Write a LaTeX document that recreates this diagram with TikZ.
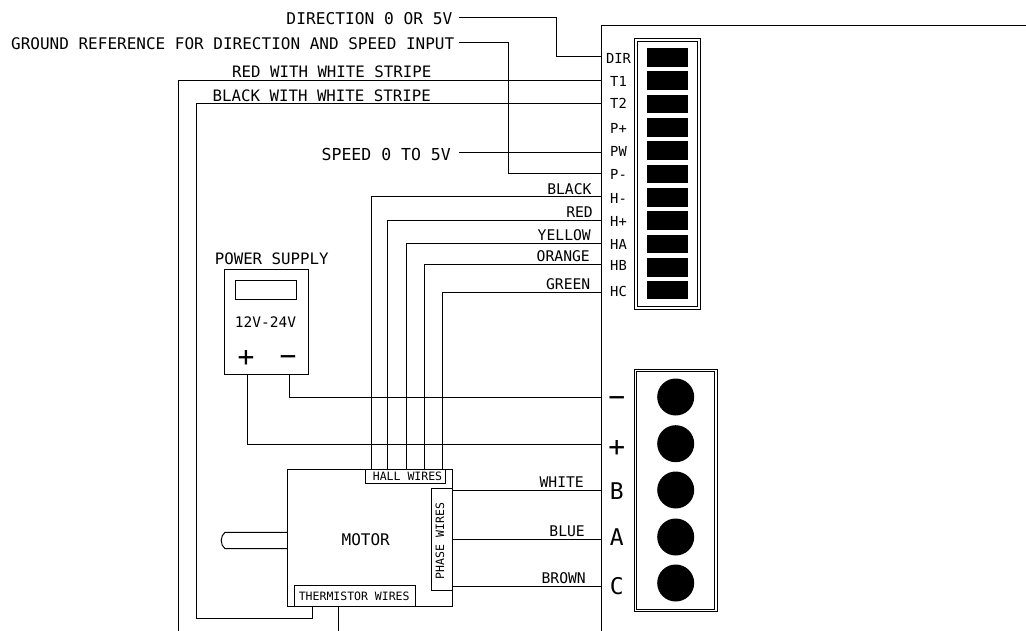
\documentclass[tikz,border=0pt]{standalone}
\usepackage{fontspec}
\setmainfont{DejaVu Sans Mono}
\tikzset{
  wire/.style={line width=1pt, line cap=rect},
  box/.style={draw, line width=1pt, fill=white, inner sep=0pt},
  lbl/.style={font=\fontsize{16}{17}\selectfont},
  stripe name/.style={font=\fontsize{15.75}{16}\selectfont},
  color name/.style={font=\fontsize{14.7}{15}\selectfont},
  tiny/.style={font=\fontsize{11.5}{12}\selectfont},
  term/.style={font=\fontsize{13.8}{14}\selectfont},
  big/.style={font=\fontsize{23}{24}\selectfont},
  sign/.style={font=\fontsize{28}{29}\selectfont}
}
\begin{document}
\begin{tikzpicture}[x=1pt, y=-1pt, every node/.style={inner sep=0pt}]
    \useasboundingbox (0,0) rectangle (1026,631);

    % controller outline, open towards the page border
    \coordinate (ctlTop) at (1026,26);
    \coordinate (ctlCorner) at (601.5,26);
    \coordinate (ctlBot) at (601.5,631);
    \draw [wire] (ctlTop) -- (ctlCorner) -- (ctlBot);

    % signal connector
    \node [box, minimum width=65.5pt, minimum height=270.5pt] (sigOut) at (667.7,173.8) {};
    \node [box, minimum width=60pt, minimum height=265pt] (sigIn) at (667.7,173.8) {};
    \foreach \i/\y in {DIR/57.4, T1/80.7, T2/104, Pp/127.4, PW/150.7, Pm/174,
                       Hm/197.4, Hp/220.7, HA/244, HB/267.4, HC/290} {
      \node [fill=black, minimum width=41pt, minimum height=18.7pt] (pin\i) at (667.5,\y) {};
    }

    % terminal names, c_name is where the wire lands on the controller
    \foreach \i/\y/\t in {DIR/58/DIR, T1/81/T1, T2/103/T2, Pp/128/P+, PW/151/PW, Pm/174/P-,
                          Hm/198/H-, Hp/221/H+, HA/244/HA, HB/265/HB, HC/291/HC} {
      \node [term] (n\i) at (618.5,\y) {\t};
    }
    \coordinate (cDIR) at (601.5,57);
    \coordinate (cT1) at (601.5,80.5);
    \coordinate (cT2) at (601.5,104);
    \coordinate (cPW) at (601.5,153);
    \coordinate (cPm) at (601.5,174);
    \coordinate (cHm) at (601.5,197);
    \coordinate (cHp) at (601.5,220.5);
    \coordinate (cHA) at (601.5,243.5);
    \coordinate (cHB) at (601.5,264.5);
    \coordinate (cHC) at (601.5,292.5);

    % power connector
    \node [box, minimum width=83pt, minimum height=242.5pt] (pwrOut) at (675.5,490.5) {};
    \node [box, minimum width=78pt, minimum height=237.5pt] (pwrIn) at (675.5,490.5) {};
    \foreach \i/\y in {Neg/397, Pos/443.7, B/490, A/537, C/583} {
      \node [circle, fill=black, minimum size=37pt] (screw\i) at (675.7,\y) {};
    }
    \foreach \i/\y in {Neg/397, Pos/444, B/490.3, A/539, C/586} {
      \coordinate (c\i) at (601.5,\y);
    }
    \node [sign] (nNeg) at (616.7,402) {−};
    \node [sign] (nPos) at (616.7,448) {+};
    \node [big] (nB) at (616.7,491) {B};
    \node [big] (nA) at (616.7,537) {A};
    \node [big] (nC) at (616.7,586) {C};

    % power supply
    \node [box, minimum width=84.3pt, minimum height=104.7pt] (supply) at (266.2,321.7) {};
    \node [box, minimum width=61.4pt, minimum height=19.4pt] (display) at (266,290) {};
    \node [stripe name] (supplyName) at (271.7,259) {POWER SUPPLY};
    \node [term, font=\fontsize{14.5}{15}\selectfont] (supplyVolt) at (265.5,321.7) {12V-24V};
    \node [sign] (supplyPlus) at (246,358) {+};
    \node [sign] (supplyMinus) at (288,361) {−};
    \coordinate (outPlus) at (247.3,374);
    \coordinate (outMinus) at (289.3,374);
    \draw [wire] (outMinus) |- (cNeg);
    \draw [wire] (outPlus) |- (cPos);

    % motor with its shaft
    \node [box, minimum width=165.3pt, minimum height=137.4pt] (motor) at (369.7,538) {};
    \node [lbl] (motorName) at (365.7,540) {MOTOR};
    \node [box, minimum width=79.7pt, minimum height=14pt] (hall) at (405.8,476.3) {};
    \node [tiny] (hallName) at (407.5,476) {HALL WIRES};
    \node [box, minimum width=21.3pt, minimum height=102pt] (phase) at (441.7,539.3) {};
    \node [tiny, rotate=90] (phaseName) at (440,541) {PHASE WIRES};
    \node [box, minimum width=121.3pt, minimum height=21pt] (therm) at (354.7,596.2) {};
    \node [tiny] (thermName) at (354.2,596) {THERMISTOR WIRES};
    \coordinate (shaftTop) at (287,532.3);
    \coordinate (shaftBot) at (287,548.7);
    \draw [wire] (shaftTop) -- (225,532.3) .. controls (220,536) and (220,545) .. (225,548.7) -- (shaftBot);

    % feet of the wires at the motor and at the bottom of the page
    \coordinate (hall1) at (371,469.3);
    \coordinate (hall2) at (387,469.3);
    \coordinate (hall3) at (406,469.3);
    \coordinate (hall4) at (424.3,469.3);
    \coordinate (hall5) at (442.7,469.3);
    \coordinate (ph1) at (452.3,490.3);
    \coordinate (ph2) at (452.3,539);
    \coordinate (ph3) at (452.3,586);
    \coordinate (th1) at (312.7,606.7);
    \coordinate (th2) at (338,606.7);
    \coordinate (th2End) at (338,631);
    \coordinate (t1End) at (178,631);
    \coordinate (t2Low) at (196.5,618.7);

    \draw [wire] (cHm) -| (hall1);
    \draw [wire] (cHp) -| (hall2);
    \draw [wire] (cHA) -| (hall3);
    \draw [wire] (cHB) -| (hall4);
    \draw [wire] (cHC) -| (hall5);

    \draw [wire] (ph1) -- (cB);
    \draw [wire] (ph2) -- (cA);
    \draw [wire] (ph3) -- (cC);

    \draw [wire] (cT1) -| (t1End);
    \draw [wire] (cT2) -| (t2Low) -| (th1);
    \draw [wire] (th2) -- (th2End);

    % inputs coming from the left
    \coordinate (inDir) at (459,18);
    \coordinate (inGnd) at (459,43);
    \coordinate (inSpeed) at (459,153);
    \coordinate (bendDir) at (556.7,18);
    \coordinate (bendGnd) at (508,43);
    \draw [wire] (inDir) -- (bendDir) |- (cDIR);
    \draw [wire] (inGnd) -- (bendGnd) |- (cPm);
    \draw [wire] (inSpeed) -- (cPW);

    % wire names
    \node [lbl, font=\fontsize{16.2}{17}\selectfont, anchor=east] (lblDir) at (452.5,19) {DIRECTION 0 OR 5V};
    \node [lbl, anchor=east] (lblGnd) at (454.5,44) {GROUND REFERENCE FOR DIRECTION AND SPEED INPUT};
    \node [lbl, font=\fontsize{16.5}{17}\selectfont, anchor=east] (lblSpeed) at (451,154) {SPEED 0 TO 5V};
    \node [stripe name, anchor=east] (lblT1) at (431.5,72) {RED WITH WHITE STRIPE};
    \node [stripe name, anchor=east] (lblT2) at (431,96) {BLACK WITH WHITE STRIPE};
    \node [color name, anchor=east] (lblBlack) at (591.7,188.7) {BLACK};
    \node [color name, anchor=east] (lblRed) at (593,211.7) {RED};
    \node [color name, anchor=east] (lblYellow) at (591,235.3) {YELLOW};
    \node [color name, anchor=east] (lblOrange) at (590,256) {ORANGE};
    \node [color name, anchor=east] (lblGreen) at (590.5,284) {GREEN};
    \node [color name, anchor=east] (lblWhite) at (584,482) {WHITE};
    \node [color name, anchor=east] (lblBlue) at (585,531) {BLUE};
    \node [color name, anchor=east] (lblBrown) at (586,577.7) {BROWN};

\end{tikzpicture}
\end{document}
